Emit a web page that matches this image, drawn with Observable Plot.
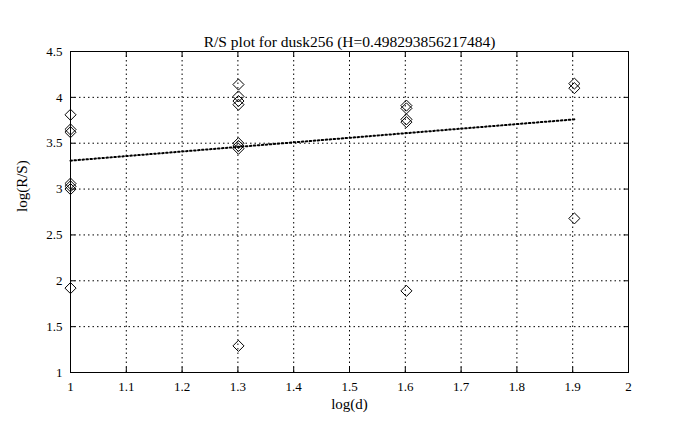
<!DOCTYPE html>
<html>
<head>
<meta charset="utf-8">
<script src="https://cdn.jsdelivr.net/npm/d3@7"></script>
<script src="https://cdn.jsdelivr.net/npm/@observablehq/plot@0.6"></script>
<style>
  html, body { margin: 0; padding: 0; background: white; }
</style>
</head>
<body>
<div id="chart"></div>
<script>
const titleText = "R/S plot for dusk256 (H=0.498293856217484)";
const xLabel = "log(d)";
const yLabel = "log(R/S)";
const xTicks = [1, 1.1, 1.2, 1.3, 1.4, 1.5, 1.6, 1.7, 1.8, 1.9, 2];
const yTicks = [1, 1.5, 2, 2.5, 3, 3.5, 4, 4.5];
const xTickLabels = ["1", "1.1", "1.2", "1.3", "1.4", "1.5", "1.6", "1.7", "1.8", "1.9", "2"];
const yTickLabels = ["1", "1.5", "2", "2.5", "3", "3.5", "4", "4.5"];

// scatter points: log10(d) and log(R/S)
const pointX = [1, 1, 1, 1, 1, 1, 1,
                1.301, 1.301, 1.301, 1.301, 1.301, 1.301, 1.301, 1.301,
                1.602, 1.602, 1.602, 1.602, 1.602,
                1.903, 1.903, 1.903];
const pointY = [3.81, 3.65, 3.62, 3.06, 3.03, 3.00, 1.92,
                4.14, 4.01, 3.96, 3.92, 3.50, 3.47, 3.44, 1.29,
                3.91, 3.88, 3.76, 3.73, 1.89,
                4.15, 4.10, 2.68];

// fitted line endpoints
const fitX = [1, 1.903];
const fitY = [3.31, 3.76];

const points = pointX.map((x, i) => ({x, y: pointY[i]}));
const fit = fitX.map((x, i) => ({x, y: fitY[i]}));

const chart = Plot.plot({
  width: 678,
  height: 430,
  marginLeft: 70,
  marginRight: 50,
  marginTop: 51,
  marginBottom: 58,
  x: {domain: [1, 2]},
  y: {domain: [1, 4.5]},
  style: {fontFamily: "'Liberation Serif', 'DejaVu Serif', serif", fontSize: "13px", background: "white", color: "black"},
  marks: [
    Plot.gridX(xTicks, {stroke: "black", strokeOpacity: 1, strokeWidth: 1, strokeDasharray: "1.5,3"}),
    Plot.gridY(yTicks, {stroke: "black", strokeOpacity: 1, strokeWidth: 1, strokeDasharray: "1.5,3"}),
    Plot.axisX({ticks: xTicks, tickFormat: (d, i) => xTickLabels[i], tickSize: 0, tickPadding: 9, label: null, fontSize: 13}),
    Plot.axisY({ticks: yTicks, tickFormat: (d, i) => yTickLabels[i], tickSize: 0, tickPadding: 8, label: null, fontSize: 13}),
    Plot.axisX({ticks: xTicks, anchor: "bottom", tickSize: -5, text: null, label: null}),
    Plot.axisX({ticks: xTicks, anchor: "top", tickSize: -5, text: null, label: null}),
    Plot.axisY({ticks: yTicks, anchor: "left", tickSize: -5, text: null, label: null}),
    Plot.axisY({ticks: yTicks, anchor: "right", tickSize: -5, text: null, label: null}),
    Plot.frame({stroke: "black", strokeWidth: 1}),
    Plot.line(fit, {x: "x", y: "y", stroke: "black", strokeWidth: 2, strokeDasharray: "1.5,2.5"}),
    Plot.dot(points, {x: "x", y: "y", symbol: "diamond2", r: 5, stroke: "black", fill: "none", strokeWidth: 1}),
    Plot.text([titleText], {frameAnchor: "top", dy: -16, fontSize: 15.5}),
    Plot.text([xLabel], {frameAnchor: "bottom", dy: 36, fontSize: 15}),
    Plot.text([yLabel], {frameAnchor: "left", dx: -48, rotate: -90, fontSize: 15})
  ]
});
document.getElementById("chart").appendChild(chart);
</script>
</body>
</html>
